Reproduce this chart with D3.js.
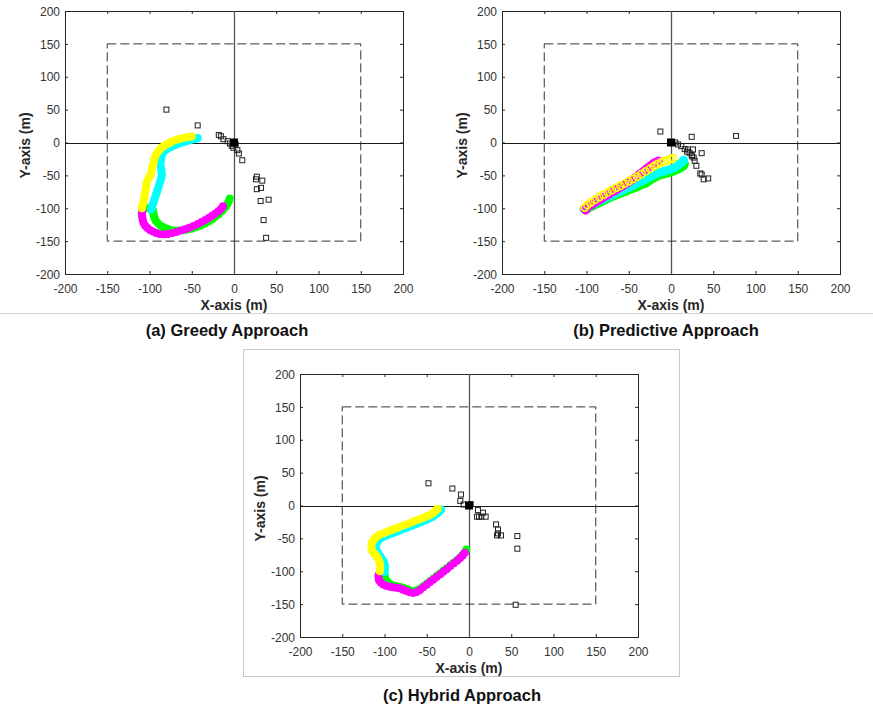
<!DOCTYPE html>
<html><head><meta charset="utf-8">
<script src="https://cdn.jsdelivr.net/npm/d3@7"></script>
<style>
html,body{margin:0;padding:0;background:#fff;}
svg{display:block;font-family:"Liberation Sans",Arial,sans-serif;}
</style></head>
<body>
<svg id="c" width="873" height="707"></svg>
<script>
// ---------- data ----------
const tickValues = [-200,-150,-100,-50,0,50,100,150,200];
const tickLabels = ["-200","-150","-100","-50","0","50","100","150","200"];
const boundary = [-150,150];
const axisTitles = ["X-axis (m)","Y-axis (m)"];
const captions = ["(a) Greedy Approach","(b) Predictive Approach","(c) Hybrid Approach"];
const seriesColors = {yellow:"#ffff00",cyan:"#00ffff",green:"#00ff00",magenta:"#ff00ff"};

// (a) Greedy
const greedyYellow = [[-50,9],[-54,8.5],[-58,7.5],[-62,6.5],[-66,5],[-70,3],[-74,1],[-77,-1],[-80,-3],[-83,-5.5],[-86,-8],[-88,-11],[-90,-14],[-92,-18],[-93.5,-22],[-94.5,-26],[-95,-30],[-96,-34],[-97,-38],[-97.5,-42],[-98,-46],[-99,-50],[-101,-54],[-102.5,-58],[-103.5,-62],[-104,-66],[-104.5,-70],[-105,-74],[-105.5,-78],[-106,-82],[-106.5,-86],[-107,-90],[-108,-94],[-109,-98],[-109,-100]];
const greedyCyan = [[-43,7],[-46,5.5],[-50,4],[-54,2.5],[-58,1],[-62,-0.5],[-66,-2],[-70,-4],[-74,-6.5],[-78,-9],[-81,-11.5],[-83.5,-14.5],[-85,-18],[-86,-22],[-86.5,-26],[-87,-30],[-87,-34],[-86.5,-38],[-86,-42],[-85.5,-46],[-85.5,-50],[-86,-54],[-87,-58],[-88,-62],[-89,-66],[-90,-70],[-91,-74],[-92,-78],[-93,-82],[-94,-86],[-95,-90],[-96,-94],[-97,-98],[-98,-102]];
const greedyGreen = [[-5,-85],[-6,-89],[-7.5,-93],[-9.5,-97],[-12,-101],[-15,-105],[-18,-109],[-22,-113],[-26,-117],[-30,-120],[-35,-123.5],[-40,-126.5],[-45,-129],[-50,-131],[-55,-132.5],[-60,-133.5],[-65,-134],[-70,-134],[-75,-133],[-79,-131],[-83,-129],[-87,-126.5],[-90,-123],[-92.5,-119],[-94,-115],[-95,-111],[-95.5,-107],[-96,-103],[-99,-101],[-102,-100]];
const greedyMagenta = [[-13,-97],[-15.5,-101],[-18.5,-104.5],[-22,-108],[-26,-111.5],[-30,-115],[-34,-118],[-38.5,-121],[-43,-124],[-48,-127],[-53,-129.5],[-58,-132],[-63,-134],[-68,-136],[-73,-137.5],[-78,-139],[-83,-139.5],[-88,-139],[-92,-137.5],[-96,-135.5],[-99.5,-133],[-102.5,-130],[-105,-126.5],[-107,-122.5],[-108,-118],[-108.5,-114],[-109,-110],[-109,-106],[-108.5,-102]];
const greedyTargets = [[-80,50],[-43,26],[-18,11.5],[-15.5,9.5],[-12.5,5],[-7.5,2],[-4.7,-1.5],[-2.7,-5],[-0.8,-8],[2,-3],[4,-11.7],[5.8,-16.7],[9.8,-27],[27,-52],[26,-56],[33.5,-58],[27,-71],[32,-69],[31.5,-89],[41,-87],[35,-118],[38,-145]];

// (b) Predictive
const predYellow = [[2.5,-24],[-1,-25.5],[-4.5,-27],[-8,-28.5],[-11.5,-30.5],[-16,-33],[-20,-36],[-25,-40],[-30,-44],[-35,-48],[-40,-52],[-45,-55.5],[-50,-59],[-55,-62.5],[-60,-66],[-65,-69],[-70,-72.5],[-75,-76],[-80,-79.5],[-85,-83],[-90,-87],[-95,-91],[-99,-95],[-102,-99]];
const predMagenta = [[-15,-28],[-18,-30],[-21,-32],[-24,-35],[-27,-38],[-30,-41],[-33,-44],[-36,-47],[-39,-50],[-42,-53],[-45,-56],[-48,-58.5],[-51,-61],[-54,-63.5],[-57,-66],[-60,-68],[-63,-70.5],[-66,-73],[-69,-75],[-72,-77.5],[-75,-80],[-78,-82],[-81,-84.5],[-84,-87],[-87,-89],[-90,-91.5],[-93,-94],[-96,-96],[-99,-98.5],[-102,-101],[-101,-103]];
const predCyan = [[15,-27],[13,-30],[10,-33],[7,-36],[4,-38.5],[0,-40.5],[-4,-42],[-8,-43.5],[-12,-45],[-16,-47],[-20,-49.5],[-25,-52.5],[-30,-56],[-35,-59.5],[-40,-62.5],[-45,-65.5],[-50,-68.5],[-55,-71.5],[-60,-74.5],[-65,-77.5],[-70,-80.5],[-75,-83.5],[-80,-86.5],[-85,-89.5],[-90,-93],[-95,-96],[-99,-99],[-103,-101]];
const predGreen = [[16,-32],[15,-35.5],[12,-38],[9,-40],[6,-42],[3,-43.5],[0,-45],[-3,-46],[-6,-47],[-9,-48],[-12,-49],[-15,-50.5],[-18,-52.5],[-21,-54.5],[-24,-57],[-27,-59.5],[-30,-62],[-34,-64],[-38,-66.5],[-42,-68.5],[-46,-70.5],[-50,-72.5],[-54,-74.5],[-58,-76.5],[-62,-78.5],[-66,-80.5],[-70,-82.5],[-74,-85],[-78,-87.5],[-82,-90],[-86,-92.5],[-90,-95],[-94,-97.5],[-98,-100],[-101,-102]];
const predTargets = [[-12.6,16.7],[24.5,8.6],[77,10],[5,0],[8.3,-3],[12.2,-5.6],[16.2,-10],[20,-10.6],[26,-10.6],[36.3,-16.2],[22,-15.7],[24.5,-19],[26.8,-23],[28,-27.8],[30,-35.4],[34.7,-47],[36.3,-48.6],[38.7,-56],[44,-54.7],[19,-14],[25,-21]];

// (c) Hybrid
const hybYellow = [[-37,-5],[-39,-7],[-41,-9.5],[-43.5,-12],[-46.5,-14.5],[-50,-16.5],[-54,-18.5],[-58,-20.5],[-62,-22.5],[-66,-24.5],[-70,-26.5],[-74,-28.5],[-78,-30.5],[-82,-32.5],[-86,-34.5],[-90,-36.5],[-94,-38.5],[-98,-40.5],[-102,-42.5],[-106,-44.5],[-109,-47],[-111.5,-50],[-113.5,-53.5],[-115,-57],[-115.5,-61],[-115.5,-65],[-114.5,-69],[-112.5,-72.5],[-110,-76],[-108,-80],[-106.5,-84],[-105.5,-88],[-105,-92],[-105,-96],[-105.5,-100]];
const hybCyan = [[-33,-6],[-35,-9],[-37.5,-12],[-40.5,-15],[-44,-18],[-48,-20.5],[-52,-23],[-56,-25],[-60,-27],[-64,-29],[-68,-31],[-72,-33],[-76,-35],[-80,-37],[-84,-39],[-88,-41],[-92,-43],[-96,-45],[-100,-47],[-104,-49.5],[-107,-53],[-109,-57],[-110,-61],[-110,-65],[-109,-69],[-107,-73],[-105,-77],[-103,-81],[-101,-85],[-100,-89],[-99.5,-93],[-99.5,-97],[-100,-101]];
const hybGreen = [[-3,-67],[-5,-71],[-7.5,-75],[-10.5,-79],[-14,-83],[-18,-87],[-22,-91],[-26,-95],[-30,-99],[-34,-103],[-38,-107],[-42,-111],[-46,-115],[-50,-119],[-54,-123],[-58,-126.5],[-62,-129],[-66,-130],[-70,-129],[-74,-127],[-78,-125],[-82,-123.5],[-86,-122.5],[-90,-121.5],[-93.5,-119.5],[-96.5,-116.5],[-98.5,-113],[-99.5,-109],[-100,-105]];
const hybMagenta = [[-5,-72],[-7.5,-76],[-10.5,-80],[-14,-84],[-18,-88],[-22,-92],[-26,-96.5],[-30,-100.5],[-34,-104.5],[-38,-108.5],[-42,-112.5],[-46,-116.5],[-50,-120.5],[-54,-124.5],[-58,-128.5],[-62,-131.5],[-66,-133],[-70,-132],[-74,-130],[-78,-128],[-82,-126],[-86,-125],[-90,-124.5],[-94,-123.5],[-98,-122],[-101.5,-120],[-104.5,-117],[-106.5,-113.5],[-107,-110],[-107,-106]];
const hybTargets = [[-48,33.8],[-19.7,25.8],[-9.5,16.7],[-10.3,7],[-6.3,1.5],[2,2],[10.6,-7],[16.6,-11],[9.5,-17],[11.8,-17],[14.6,-17],[19.7,-17],[32,-28.8],[34.3,-36.4],[34.3,-42.4],[37.9,-45.5],[33.1,-45.5],[57.2,-46.5],[57.2,-65.7],[55.2,-151]];

// ---------- drawing ----------
const svg = d3.select("#c");
const W = 338, H = 263;
const panels = [
  {left:65, top:11, series:[["green",greedyGreen],["magenta",greedyMagenta],["cyan",greedyCyan],["yellow",greedyYellow]], targets:greedyTargets, ring:false},
  {left:502, top:11, series:[["green",predGreen],["cyan",predCyan],["magenta",predMagenta],["yellow",predYellow]], targets:predTargets, ring:true},
  {left:300, top:374, series:[["green",hybGreen],["magenta",hybMagenta],["cyan",hybCyan],["yellow",hybYellow]], targets:hybTargets, ring:false}
];

svg.append("line").attr("x1",0).attr("x2",873).attr("y1",313.5).attr("y2",313.5).attr("stroke","#d4d4d4").attr("stroke-width",1);
svg.append("rect").attr("x",243.5).attr("y",349.5).attr("width",436).attr("height",327).attr("fill","none").attr("stroke","#c8c8c8").attr("stroke-width",1);

const fmt = d => tickLabels[tickValues.indexOf(d)];

panels.forEach(p => {
  const g = svg.append("g").attr("transform",`translate(${p.left},${p.top})`);
  const x = d3.scaleLinear().domain([-200,200]).range([0,W]);
  const y = d3.scaleLinear().domain([-200,200]).range([H,0]);

  const styleAxis = sel => {
    sel.select(".domain").remove();
    sel.selectAll(".tick line").attr("stroke","#262626");
    sel.selectAll(".tick text").attr("fill","#333").style("font-size","12px").style("font-family","'Liberation Sans',Arial,sans-serif");
  };
  g.append("g").attr("transform",`translate(0,${H})`)
    .call(d3.axisBottom(x).tickValues(tickValues).tickFormat(fmt).tickSizeInner(-3).tickSizeOuter(0).tickPadding(10)).call(styleAxis);
  g.append("g")
    .call(d3.axisLeft(y).tickValues(tickValues).tickFormat(fmt).tickSizeInner(-3).tickSizeOuter(0).tickPadding(5)).call(styleAxis)
    .selectAll(".tick text").attr("dy","0.35em");
  g.append("g")
    .call(d3.axisTop(x).tickValues(tickValues).tickFormat("").tickSizeInner(-3).tickSizeOuter(0)).call(styleAxis);
  g.append("g").attr("transform",`translate(${W},0)`)
    .call(d3.axisRight(y).tickValues(tickValues).tickFormat("").tickSizeInner(-3).tickSizeOuter(0)).call(styleAxis);

  g.append("rect").attr("x",0.5).attr("y",0.5).attr("width",W).attr("height",H)
    .attr("fill","none").attr("stroke","#262626").attr("stroke-width",1);

  g.append("line").attr("x1",0).attr("x2",W).attr("y1",Math.round(y(0))+0.5).attr("y2",Math.round(y(0))+0.5).attr("stroke","#1a1a1a").attr("stroke-width",1);
  g.append("line").attr("x1",Math.round(x(0))+0.5).attr("x2",Math.round(x(0))+0.5).attr("y1",0).attr("y2",H).attr("stroke","#555").attr("stroke-width",1.3);

  g.append("rect").attr("x",x(boundary[0])).attr("y",y(boundary[1]))
    .attr("width",x(boundary[1])-x(boundary[0])).attr("height",y(boundary[0])-y(boundary[1]))
    .attr("fill","none").attr("stroke","#333").attr("stroke-width",1).attr("stroke-dasharray","9,4");

  p.series.forEach(([name,pts]) => {
    const col = seriesColors[name];
    g.append("g").selectAll("circle").data(pts).join("circle")
      .attr("cx",d=>x(d[0])).attr("cy",d=>y(d[1]))
      .attr("r", p.ring ? 3.6 : 4)
      .attr("fill", p.ring ? (name==="green"||name==="cyan" ? col : "none") : col)
      .attr("stroke", col).attr("stroke-width", p.ring ? 1.7 : 0);
  });

  g.append("g").selectAll("rect").data(p.targets).join("rect")
    .attr("x",d=>x(d[0])-2.5).attr("y",d=>y(d[1])-2.5).attr("width",5).attr("height",5)
    .attr("fill","none").attr("stroke","#222").attr("stroke-width",1);
  g.append("rect").attr("x",x(0)-4).attr("y",y(0)-4).attr("width",8).attr("height",8).attr("fill","#000");

  g.append("text").attr("x",W/2).attr("y",H+36).attr("text-anchor","middle")
    .attr("font-weight","bold").attr("font-size",14).attr("fill","#262626").text(axisTitles[0]);
  g.append("text").attr("transform",`translate(-35,${H/2+3}) rotate(-90)`).attr("text-anchor","middle")
    .attr("font-weight","bold").attr("font-size",14).attr("fill","#262626").text(axisTitles[1]);
});

const capPos = [[227,336],[666,336],[462,701]];
captions.forEach((c,i) => {
  svg.append("text").attr("x",capPos[i][0]).attr("y",capPos[i][1]).attr("text-anchor","middle")
    .attr("font-weight","bold").attr("font-size",16.5).attr("fill","#111").text(c);
});
</script>
</body></html>
